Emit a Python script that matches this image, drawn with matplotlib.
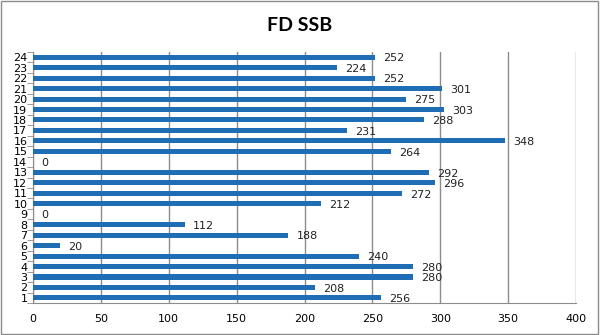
import matplotlib.pyplot as plt
from matplotlib.patches import Rectangle

# data
categorias = [str(i) for i in range(1, 25)]
valores = [256, 208, 280, 280, 240, 20, 188, 112, 0, 212, 272, 296,
           292, 0, 264, 348, 231, 288, 303, 275, 301, 252, 224, 252]
ticks_x = [0, 50, 100, 150, 200, 250, 300, 350, 400]

cor_barra = '#1f6db5'
cor_grade = '#8c8c8c'

fig = plt.figure(figsize=(6, 3.35), dpi=100)
ax = fig.add_axes([0.055, 0.095, 0.905, 0.75])

pos = list(range(len(categorias)))
ax.barh(pos, valores, height=0.48, color=cor_barra, zorder=3)

for p, v in zip(pos, valores):
    ax.text(v + 6, p - 0.12, str(v), va='center', ha='left', fontsize=8, color='#222222')

ax.set_xlim(0, 400)
ax.set_ylim(-0.5, len(categorias) - 0.5)
ax.set_xticks(ticks_x)
ax.set_xticklabels([str(t) for t in ticks_x], fontsize=8)
ax.set_yticks(pos)
ax.set_yticklabels(categorias, fontsize=8)
ax.set_yticks([p - 0.5 for p in pos] + [len(pos) - 0.5], minor=True)
ax.tick_params(axis='y', which='major', length=0, pad=4)
ax.tick_params(axis='y', which='minor', length=4, color=cor_grade)
ax.tick_params(axis='x', length=0, pad=8)
ax.grid(axis='x', color=cor_grade, linewidth=1, zorder=0)

for lado in ['top', 'right']:
    ax.spines[lado].set_visible(False)
ax.spines['left'].set_color(cor_grade)
ax.spines['bottom'].set_color(cor_grade)

fig.text(0.5, 0.925, 'FD SSB', ha='center', va='center', fontsize=14,
         fontweight='bold', family=['Lato', 'DejaVu Sans'])

fig.patches.append(Rectangle((0.002, 0.003), 0.995, 0.993, transform=fig.transFigure,
                             fill=False, edgecolor='#8c8c8c', linewidth=1))

fig.savefig('out.png', dpi=100)
